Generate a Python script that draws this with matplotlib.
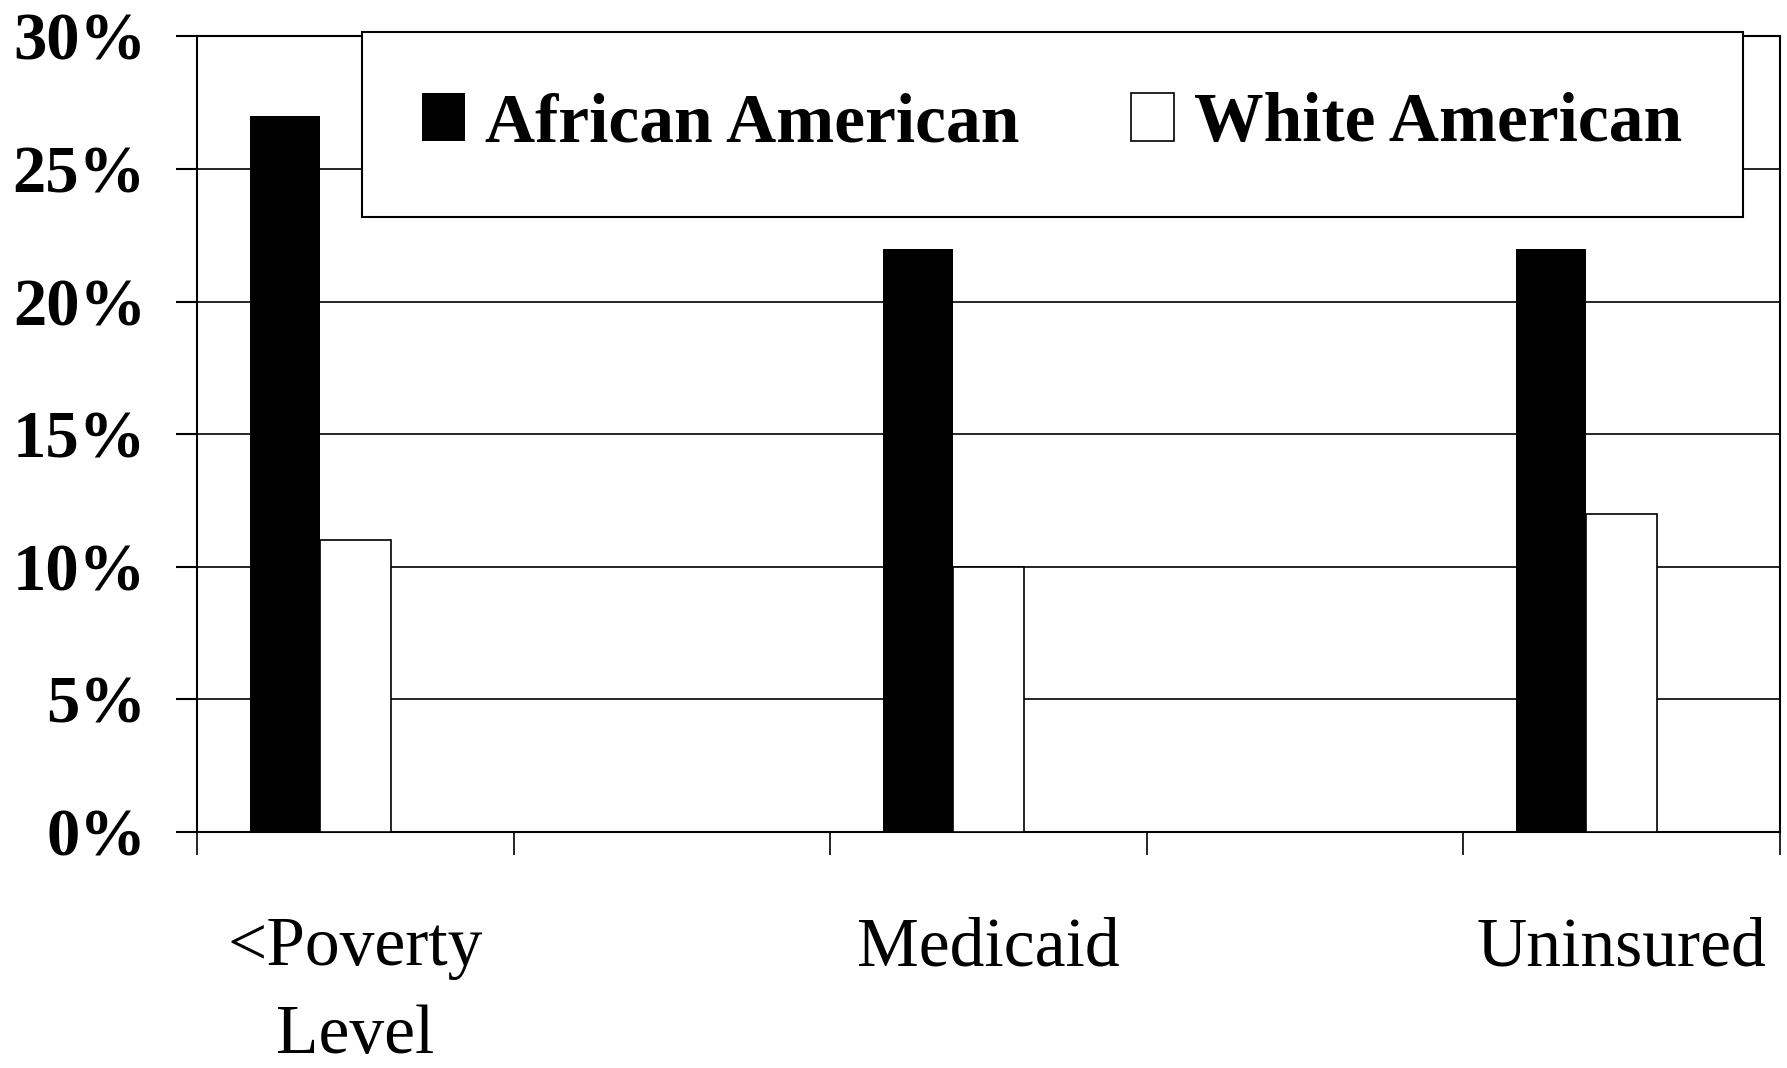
import matplotlib
matplotlib.use("Agg")
import matplotlib.pyplot as plt
import numpy as np

# ── Datos ──────────────────────────────────────────────
categorias = ["<Poverty\nLevel", "", "Medicaid", "", "Uninsured"]
african_american = [27, np.nan, 22, np.nan, 22]
white_american = [11, np.nan, 10, np.nan, 12]
y_ticks = [0, 5, 10, 15, 20, 25, 30]

plt.rcParams.update({
    "font.family": ["Liberation Serif", "DejaVu Serif"],
    "axes.linewidth": 1.5,
})

fig = plt.figure(figsize=(17.87, 10.68), dpi=100)
ax = fig.add_axes([0.1103, 0.2210, 0.8858, 0.7449])

x = np.arange(len(categorias))
w = 0.223
ax.bar(x - w, african_american, width=w, color="black", edgecolor="black",
       linewidth=0, label="African American", zorder=3)
ax.bar(x, white_american, width=w, color="white", edgecolor="black",
       linewidth=1.2, label="White American", zorder=3)

ax.set_xlim(-0.5, len(categorias) - 0.5)
ax.set_ylim(0, 30)
ax.set_yticks(y_ticks)
ax.set_yticklabels([f"{v}%" for v in y_ticks], fontsize=48, fontweight="bold")
ax.tick_params(axis="y", direction="out", length=14.8, width=1.5, pad=22)
ax.yaxis.grid(True, color="black", linewidth=1.2)
ax.set_axisbelow(True)

# marcas entre categorías, etiquetas en el centro
ax.set_xticks(np.arange(-0.5, len(categorias), 1.0))
ax.set_xticklabels([])
ax.tick_params(axis="x", which="major", direction="out", length=16.5, width=1.2)
ax.set_xticks(x, minor=True)
ax.set_xticklabels(categorias, minor=True, fontsize=50, linespacing=1.5)
ax.tick_params(axis="x", which="minor", length=0, pad=61)

for s in ax.spines.values():
    s.set_color("black")

leg = ax.legend(loc="upper left", bbox_to_anchor=(0.104, 1.0057), ncol=2,
                borderaxespad=0, frameon=True, fancybox=False, framealpha=1,
                prop={"family": "Liberation Serif", "weight": "bold", "size": 50},
                handlelength=0.62, handleheight=0.67, handletextpad=0.29,
                columnspacing=1.6, borderpad=0.87)
leg.get_frame().set_edgecolor("black")
leg.get_frame().set_linewidth(1.5)
leg.set_zorder(5)

fig.savefig("out.png", dpi=100)
